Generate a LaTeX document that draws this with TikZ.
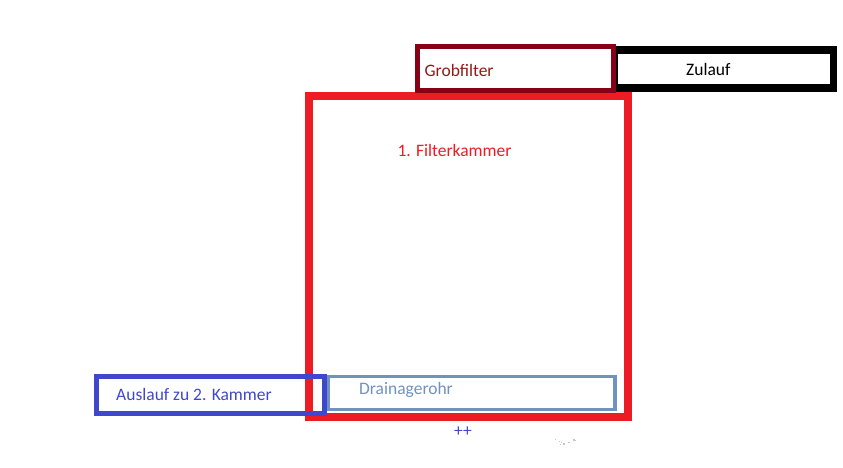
\documentclass[tikz,border=0pt]{standalone}
\usepackage{fontspec}
\setmainfont{Carlito}
\usetikzlibrary{positioning}
\definecolor{kammerrot}{HTML}{ED1C24}
\definecolor{grobrot}{HTML}{880015}
\definecolor{grobtext}{HTML}{8E1C14}
\definecolor{auslaufblau}{HTML}{3F48CC}
\definecolor{drainblau}{HTML}{7092BE}

\begin{document}
\begin{tikzpicture}[x=1pt,y=-1pt]
\tikzset{Kasten/.style ={draw, rectangle, inner sep=0pt}}
\tikzset{Schrift/.style ={anchor=base west, inner sep=0pt, font=\fontsize{17.5}{21}\selectfont}}
\useasboundingbox (0,0) rectangle (843,467);
% Kaesten
\node[Kasten, kammerrot, line width=8pt, minimum width=319pt, minimum height=321pt] (kammer) at (468.5,256.5) {};
\node[Kasten, black, line width=7.5pt, minimum width=219.2pt, minimum height=38pt] (zulauf) at (724.1,69) {};
\node[Kasten, grobrot, line width=5pt, minimum width=195.6pt, minimum height=44.1pt] (grob) at (515.5,68.75) {};
\node[Kasten, drainblau, line width=3.5pt, minimum width=287pt, minimum height=32.6pt] (drain) at (471.5,393) {};
\node[Kasten, auslaufblau, line width=5pt, minimum width=227.7pt, minimum height=36.8pt] (auslauf) at (210.35,394.9) {};
% Beschriftung
\node[Schrift, grobtext] (grobtxt) at (424.5,76.3) {Grobfilter};
\node[Schrift, black] (zulauftxt) at (686,75.3) {Zulauf};
\node[Schrift, kammerrot] (kammertxt) at (397.3,156) {1. Filterkammer};
\node[Schrift, drainblau] (draintxt) at (359,394.7) {Drainagerohr};
\node[Schrift, auslaufblau] (auslauftxt) at (116,400.3) {Auslauf zu 2. Kammer};
\node[Schrift, auslaufblau] (plus) at (454,436) {++};
% Kruemel
\foreach \x/\y in {555/439,559/440.7,560.7/442,563.3/443.3,560/444,568.3/441.7,573.3/439.3,575/440}
  \fill[gray!45] (\x,\y) rectangle +(1.2,1.2);
\end{tikzpicture}
\end{document}
